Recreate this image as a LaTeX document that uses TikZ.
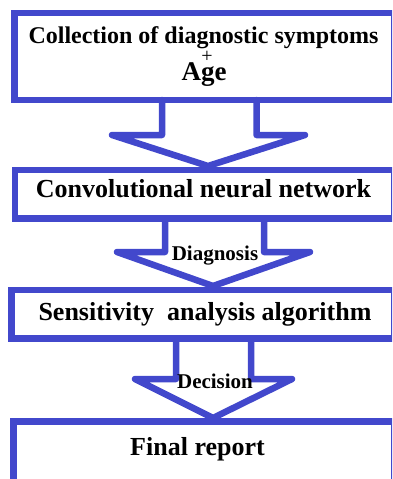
\documentclass[tikz,border=0pt]{standalone}
\usepackage{fontspec}
\setmainfont{Liberation Serif}
\definecolor{flowblue}{RGB}{66,72,204}

\begin{document}
\begin{tikzpicture}[
  x=1pt, y=-1pt,
  stagebox/.style={rectangle, draw=flowblue, line width=6.5pt, outer sep=0, inner sep=0},
  flowarrow/.style={draw=flowblue, line width=6.5pt, line join=round, line cap=round},
  stagetext/.style={font=\bfseries\fontsize{26}{26}\selectfont, anchor=base, inner sep=0},
  arrowlabel/.style={font=\bfseries\fontsize{21}{21}\selectfont, anchor=base, inner sep=0}
]
\useasboundingbox (0,0) rectangle (392,479);
\clip (0,0) rectangle (392,479);
% stages
\node[stagebox, minimum width=380pt, minimum height=87pt] (box1) at (204.5,56.5) {};
\node[stagebox, minimum width=379.5pt, minimum height=48.5pt] (box2) at (204.75,194.25) {};
\node[stagebox, minimum width=383pt, minimum height=48.5pt] (box3) at (203,314.25) {};
\node[stagebox, minimum width=381pt, minimum height=80pt] (box4) at (204,461.5) {};
% block arrows
\coordinate (tip1) at (208,166);
\coordinate (tip2) at (213,286);
\coordinate (tip3) at (213,418);
\foreach \from/\sl/\sr/\wl/\wr/\wy/\tip in {box1/162/256.5/112/305/135/tip1,
    box2/165/264/117/310/252/tip2, box3/176/251/135/292/379/tip3}{
  \draw[flowarrow] (\from.south -| \sl,0) -- (\sl,\wy) -- (\wl,\wy) -- (\tip)
    -- (\wr,\wy) -- (\sr,\wy) -- (\from.south -| \sr,0);
}
% texts
\node[stagetext, font=\bfseries\fontsize{24}{24}\selectfont] (text1) at (203.5,43.5) {Collection of diagnostic symptoms};
\node[font=\fontsize{20}{20}\selectfont, inner sep=0] (plus1) at (207,56.5) {+};
\node[stagetext, font=\bfseries\fontsize{27}{27}\selectfont] (age1) at (204,80) {Age};
\node[stagetext] (text2) at (203.5,197) {Convolutional neural network};
\node[stagetext] (text3) at (205,320) {Sensitivity\ \ analysis algorithm};
\node[stagetext] (text4) at (197.5,455) {Final report};
\node[arrowlabel] (diag) at (215,260) {Diagnosis};
\node[arrowlabel] (dec) at (215,388) {Decision};
\end{tikzpicture}
\end{document}
